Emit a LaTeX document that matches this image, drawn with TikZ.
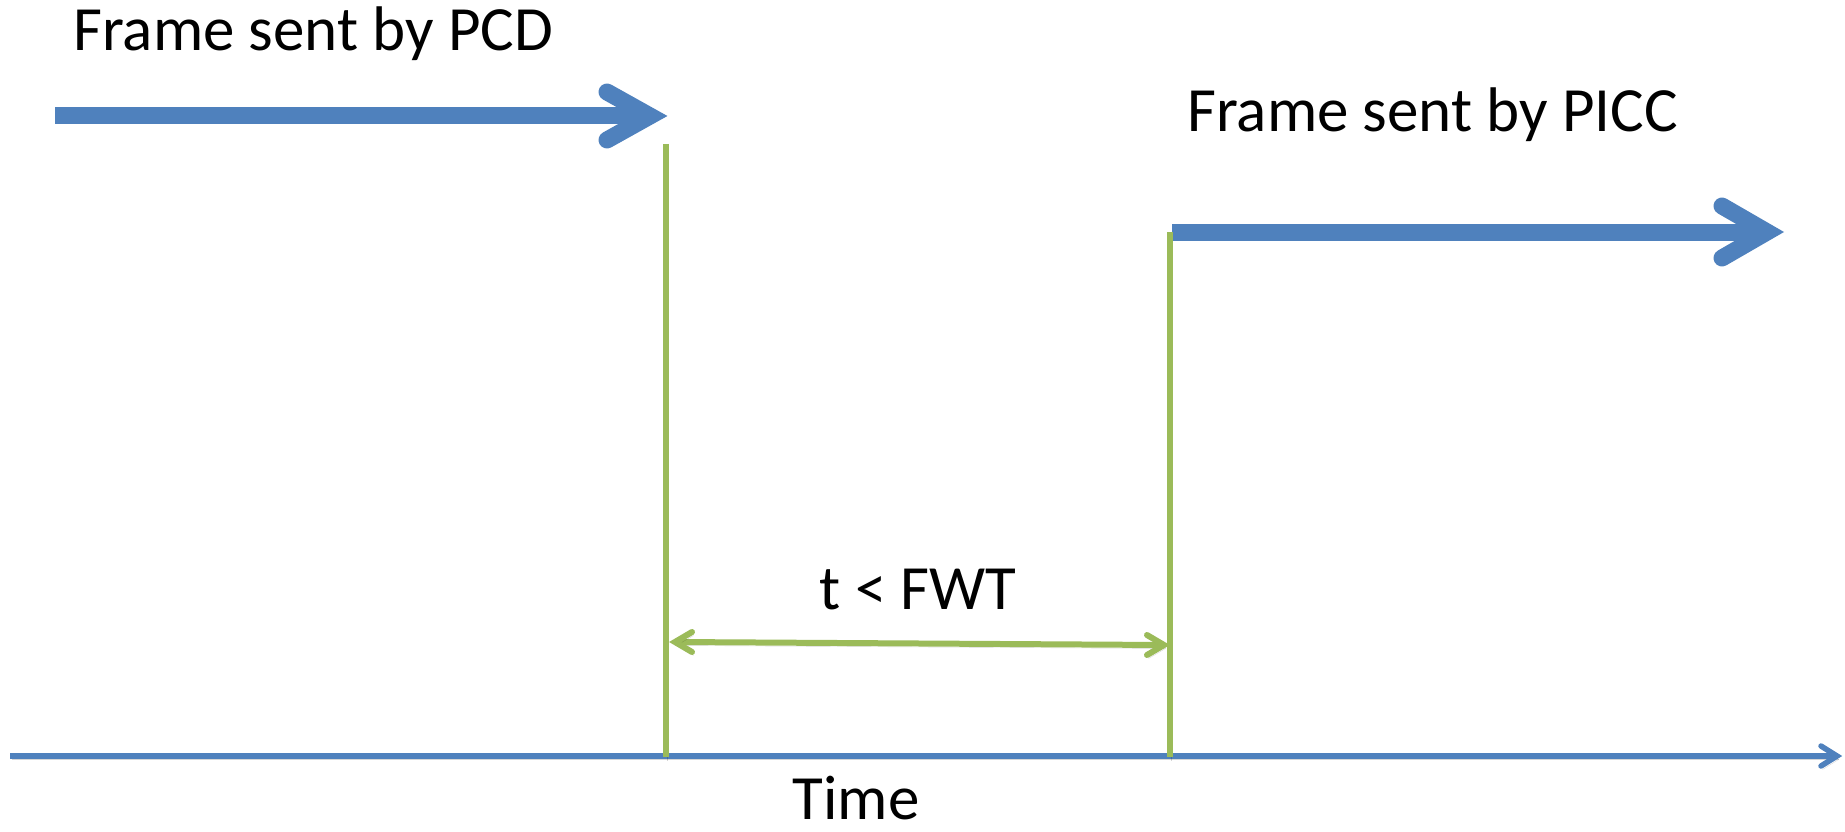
\documentclass[tikz,border=0pt]{standalone}
\usepackage{fontspec}
\setmainfont{Carlito}
\usetikzlibrary{calc}
\definecolor{ablue}{HTML}{4F81BD}
\definecolor{agreen}{HTML}{9BBB59}
\begin{document}
\begin{tikzpicture}[x=1pt,y=-1pt,
  shadowed/.style={preaction={draw=black,opacity=0.16,transform canvas={shift={(1.5pt,-3.5pt)}}}},
  shaft/.style={draw=ablue,line width=17pt,shadowed},
  bhead/.style={draw=ablue,line width=17pt,line cap=round,line join=miter,shadowed},
  axisline/.style={draw=ablue,line width=5.5pt,shadowed},
  axhead/.style={draw=ablue,line width=5.5pt,line cap=round,line join=miter,shadowed},
  gline/.style={draw=agreen,line width=6pt,shadowed},
  ghead/.style={draw=agreen,line width=6pt,line cap=round,line join=miter,shadowed},
  lbl/.style={font=\fontsize{63}{75}\selectfont, inner sep=0pt}]
\useasboundingbox (0,0) rectangle (1845,832);
\fill[white] (0,0) rectangle (1845,832);
% texts
\node[lbl,anchor=base west] (tpcd) at (73,51) {Frame sent by PCD};
\node[lbl,anchor=base west] (tpicc) at (1187,132) {Frame sent by PICC};
\node[lbl,anchor=base] (tfwt) at (918,609) {t < FWT};
\node[lbl,anchor=base,text depth=0pt] (ttime) at (856,819) {Time};
% time axis
\coordinate (t0) at (10,756);
\coordinate (t1) at (1837,756);
\draw[axisline] (t0) -- (t1);
\draw[axhead] ($(t1)+(-16,-10)$) -- (t1) -- ($(t1)+(-16,10)$);
% frame by PCD
\coordinate (p0) at (55,116);
\coordinate (p1) at (650,116);
\draw[shaft] (p0) -- (p1);
\draw[bhead] ($(p1)+(-43,-24)$) -- (p1) -- ($(p1)+(-43,24)$);
% frame by PICC
\coordinate (q0) at (1172,232);
\coordinate (q1) at (1767,232);
\draw[shaft] (q0) -- (q1);
\draw[bhead] ($(q1)+(-45,-26)$) -- (q1) -- ($(q1)+(-45,26)$);
% double arrow
\coordinate (d0) at (675,642);
\coordinate (d1) at (1164,645);
\draw[gline] (d0) -- (d1);
\draw[ghead] ($(d0)+(17,-10)$) -- (d0) -- ($(d0)+(17,10)$);
\draw[ghead] ($(d1)+(-17,-10)$) -- (d1) -- ($(d1)+(-17,10)$);
% green verticals
\coordinate (g1t) at (666,144);
\coordinate (g1b) at (666,757);
\coordinate (g2t) at (1170,232);
\coordinate (g2b) at (1170,757);
\draw[gline] (g1t) -- (g1b);
\draw[gline] (g2t) -- (g2b);
\end{tikzpicture}
\end{document}
